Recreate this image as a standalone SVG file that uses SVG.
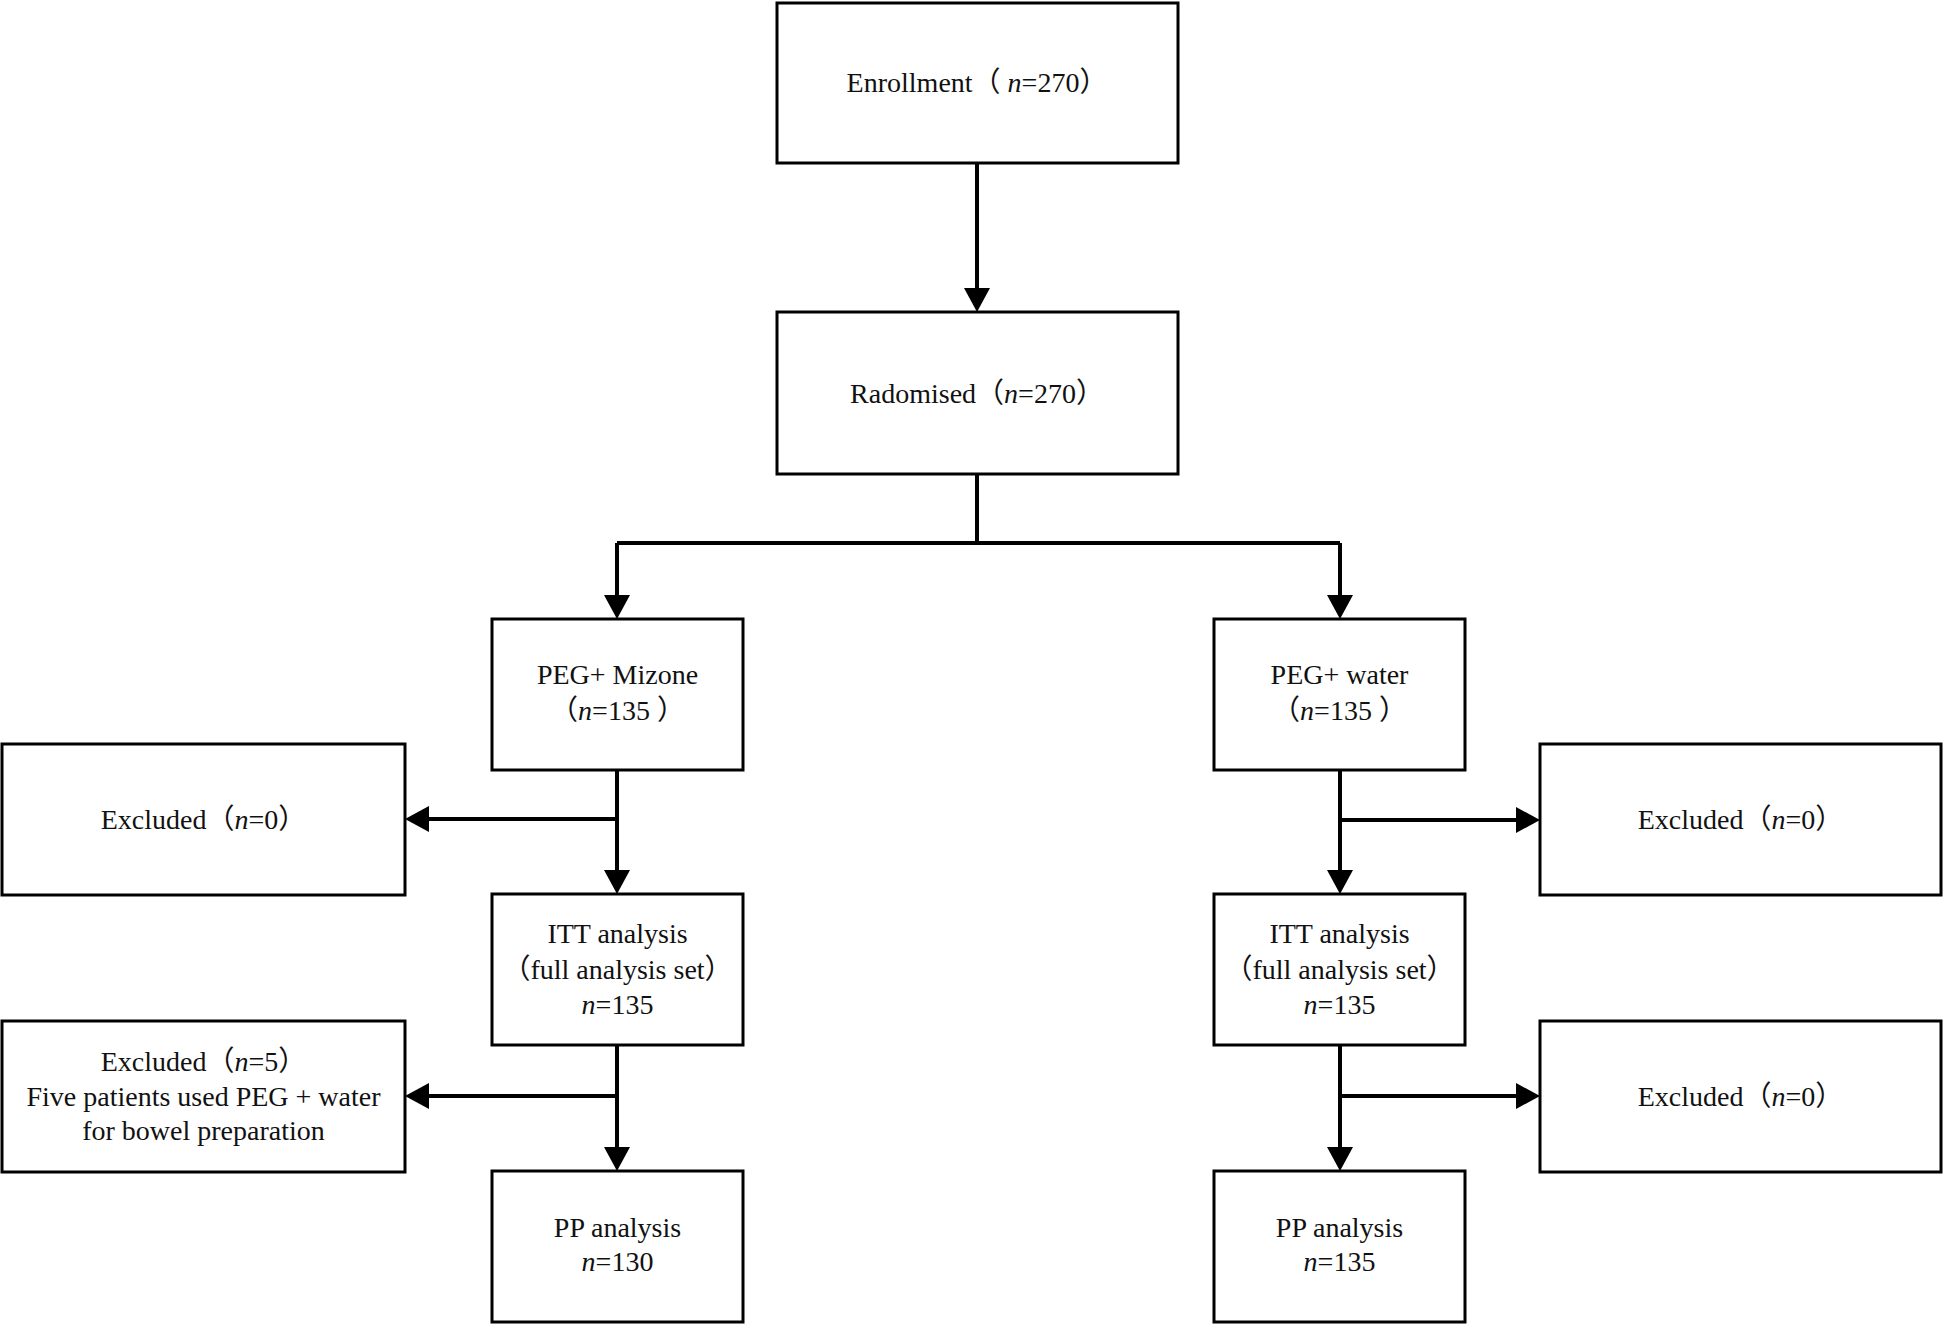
<svg xmlns="http://www.w3.org/2000/svg" width="1944" height="1325" viewBox="0 0 1944 1325">
<style>
.box{fill:#fff;stroke:#000;stroke-width:3}
.t{font-family:"Liberation Serif","Times New Roman","Noto Sans CJK SC",serif;font-size:28px;fill:#111;text-anchor:middle}
.i{font-style:italic}
.c{fill:none;stroke:#000;stroke-width:4}
</style>
<defs>
<marker id="ah" markerUnits="userSpaceOnUse" markerWidth="24" markerHeight="26" viewBox="0 0 24 26" refX="2" refY="13" orient="auto">
<path d="M0,0 L24,13 L0,26 Z" fill="#000"/>
</marker>
</defs>
<rect width="1944" height="1325" fill="#fff"/>
<g id="connectors">
<path class="c" d="M977,163 V290" marker-end="url(#ah)"/>
<path class="c" d="M977,474 V543 M617,543 H1340"/>
<path class="c" d="M617,543 V597" marker-end="url(#ah)"/>
<path class="c" d="M1340,543 V597" marker-end="url(#ah)"/>
<path class="c" d="M617,770 V872" marker-end="url(#ah)"/>
<path class="c" d="M617,819 H427" marker-end="url(#ah)"/>
<path class="c" d="M617,1045 V1149" marker-end="url(#ah)"/>
<path class="c" d="M617,1096 H427" marker-end="url(#ah)"/>
<path class="c" d="M1340,770 V872" marker-end="url(#ah)"/>
<path class="c" d="M1340,820 H1518" marker-end="url(#ah)"/>
<path class="c" d="M1340,1045 V1149" marker-end="url(#ah)"/>
<path class="c" d="M1340,1096 H1518" marker-end="url(#ah)"/>
</g>
<g id="enrollment">
<rect class="box" x="777" y="3" width="401" height="160"/>
<text class="t" x="977" y="92">Enrollment（ <tspan class="i">n</tspan>=270）</text>
</g>
<g id="randomised">
<rect class="box" x="777" y="312" width="401" height="162"/>
<text class="t" x="977" y="403">Radomised（<tspan class="i">n</tspan>=270）</text>
</g>
<g id="peg-mizone">
<rect class="box" x="492" y="619" width="251" height="151"/>
<text class="t" x="617.5" y="684">PEG+ Mizone</text>
<text class="t" x="617.5" y="720">（<tspan class="i">n</tspan>=135 ）</text>
</g>
<g id="peg-water">
<rect class="box" x="1214" y="619" width="251" height="151"/>
<text class="t" x="1339.5" y="684">PEG+ water</text>
<text class="t" x="1339.5" y="720">（<tspan class="i">n</tspan>=135 ）</text>
</g>
<g id="excluded-left-1">
<rect class="box" x="2" y="744" width="403" height="151"/>
<text class="t" x="203.5" y="829">Excluded（<tspan class="i">n</tspan>=0）</text>
</g>
<g id="excluded-right-1">
<rect class="box" x="1540" y="744" width="401" height="151"/>
<text class="t" x="1740.5" y="829">Excluded（<tspan class="i">n</tspan>=0）</text>
</g>
<g id="itt-left">
<rect class="box" x="492" y="894" width="251" height="151"/>
<text class="t" x="617.5" y="943">ITT analysis</text>
<text class="t" x="617.5" y="979">（full analysis set）</text>
<text class="t" x="617.5" y="1014"><tspan class="i">n</tspan>=135</text>
</g>
<g id="itt-right">
<rect class="box" x="1214" y="894" width="251" height="151"/>
<text class="t" x="1339.5" y="943">ITT analysis</text>
<text class="t" x="1339.5" y="979">（full analysis set）</text>
<text class="t" x="1339.5" y="1014"><tspan class="i">n</tspan>=135</text>
</g>
<g id="excluded-left-2">
<rect class="box" x="2" y="1021" width="403" height="151"/>
<text class="t" x="203.5" y="1071">Excluded（<tspan class="i">n</tspan>=5）</text>
<text class="t" x="203.5" y="1106">Five patients used PEG + water</text>
<text class="t" x="203.5" y="1140">for bowel preparation</text>
</g>
<g id="excluded-right-2">
<rect class="box" x="1540" y="1021" width="401" height="151"/>
<text class="t" x="1740.5" y="1106">Excluded（<tspan class="i">n</tspan>=0）</text>
</g>
<g id="pp-left">
<rect class="box" x="492" y="1171" width="251" height="151"/>
<text class="t" x="617.5" y="1237">PP analysis</text>
<text class="t" x="617.5" y="1271"><tspan class="i">n</tspan>=130</text>
</g>
<g id="pp-right">
<rect class="box" x="1214" y="1171" width="251" height="151"/>
<text class="t" x="1339.5" y="1237">PP analysis</text>
<text class="t" x="1339.5" y="1271"><tspan class="i">n</tspan>=135</text>
</g>
</svg>
